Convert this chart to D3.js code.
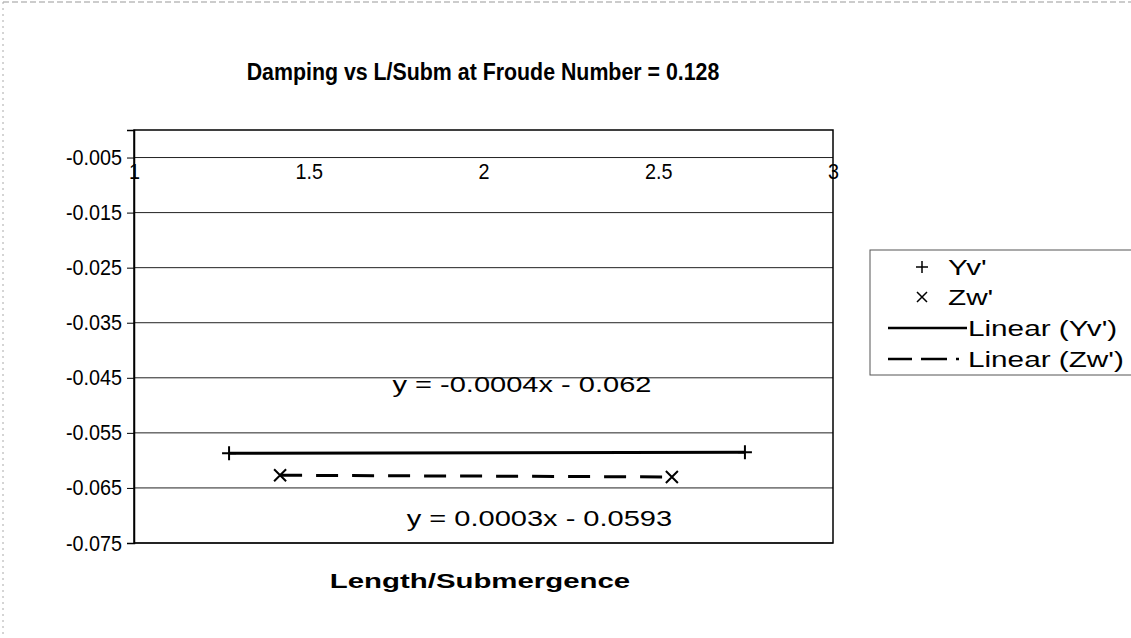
<!DOCTYPE html>
<html>
<head>
<meta charset="utf-8">
<script src="https://cdn.jsdelivr.net/npm/d3@7"></script>
<style>
	body { margin: 0; background: #fff; }
	text { font-family: "Liberation Sans", Arial, sans-serif; fill: #000; }
</style>
</head>
<body>
<div id="chart"></div>
<script>
const xTicks = [1, 1.5, 2, 2.5, 3];
const yTicks = [-0.005, -0.015, -0.025, -0.035, -0.045, -0.055, -0.065, -0.075];

const yvX = [1.272, 2.748];
const yvY = [-0.0587, -0.0585];
const zwX = [1.418, 2.539];
const zwY = [-0.0627, -0.0630];

const seriesNames = ["Yv'", "Zw'"];
const trendNames = ["Linear (Yv')", "Linear (Zw')"];
const equations = ["y = -0.0004x - 0.062", "y = 0.0003x - 0.0593"];

const width = 1131, height = 638;
const margin = {top: 130, right: 298, bottom: 95, left: 134};

const svg = d3.select('#chart').append('svg')
	.attr('width', width)
	.attr('height', height);

// scan-like outer border (only top and left visible)
svg.append('line').attr('x1', 3).attr('x2', width).attr('y1', 2).attr('y2', 2)
	.attr('stroke', '#999').attr('stroke-dasharray', '6,3');
svg.append('line').attr('x1', 3).attr('x2', 3).attr('y1', 2).attr('y2', height)
	.attr('stroke', '#aaa').attr('stroke-dasharray', '2,4');

const xScale = d3.scaleLinear()
	.domain([1, 3])
	.range([margin.left, width - margin.right]);

const yScale = d3.scaleLinear()
	.domain([-0.075, 0])
	.range([height - margin.bottom, margin.top]);

// the scanned text is not in the usual proportions, so scale it horizontally
const wideText = (sel, x, y, str, size, sx, opts = {}) => {
	return sel.append('text')
		.attr('transform', `translate(${x},${y}) scale(${sx},1)`)
		.attr('text-anchor', opts.anchor || 'middle')
		.attr('dy', opts.dy || null)
		.style('font-size', size + 'px')
		.style('font-weight', opts.bold ? 'bold' : null)
		.text(str);
};

const squeezeTicks = (g, sx) => {
	g.selectAll('.tick text').each(function() {
		const t = d3.select(this);
		const x = +t.attr('x') || 0;
		const y = +t.attr('y') || 0;
		t.attr('x', 0).attr('y', 0)
			.attr('transform', `translate(${x},${y}) scale(${sx},1)`);
	});
};

// gridlines
svg.append('g')
	.selectAll('line')
	.data(yTicks)
	.enter().append('line')
	.attr('x1', margin.left)
	.attr('x2', width - margin.right)
	.attr('y1', d => yScale(d))
	.attr('y2', d => yScale(d))
	.attr('stroke', '#222')
	.attr('stroke-width', 1);

// plot border
svg.append('rect')
	.attr('x', margin.left)
	.attr('y', margin.top)
	.attr('width', width - margin.right - margin.left)
	.attr('height', height - margin.bottom - margin.top)
	.attr('fill', 'none')
	.attr('stroke', '#000')
	.attr('stroke-width', 1.5);

// y axis
const yAxis = d3.axisLeft(yScale)
	.tickValues(yTicks)
	.tickSize(7)
	.tickPadding(5)
	.tickFormat(d => d3.format('.3f')(d).replace('\u2212', '-'));

const gy = svg.append('g')
	.attr('transform', `translate(${margin.left},0)`)
	.call(yAxis);
gy.select('.domain').attr('stroke-width', 1.5);
gy.selectAll('text').style('font-size', '22px');
squeezeTicks(gy, 0.9);

// x axis labels, sitting under the -0.005 gridline
const xAxis = d3.axisBottom(xScale)
	.tickValues(xTicks)
	.tickSize(0)
	.tickPadding(6)
	.tickFormat(d => d);

const gx = svg.append('g')
	.attr('transform', `translate(0,${yScale(-0.005)})`)
	.call(xAxis);
gx.select('.domain').remove();
gx.selectAll('text').style('font-size', '22px');
squeezeTicks(gx, 0.9);

// trendlines from least squares fit
const fit = (xs, ys) => {
	const mx = d3.mean(xs), my = d3.mean(ys);
	const b = d3.sum(xs.map((x, i) => (x - mx) * (ys[i] - my))) / d3.sum(xs.map(x => (x - mx) * (x - mx)));
	return x => my + b * (x - mx);
};

const line = d3.line()
	.x(d => xScale(d[0]))
	.y(d => yScale(d[1]));

const yvFit = fit(yvX, yvY);
const zwFit = fit(zwX, zwY);

svg.append('path')
	.datum(d3.extent(yvX).map(x => [x, yvFit(x)]))
	.attr('d', line)
	.attr('fill', 'none')
	.attr('stroke', '#000')
	.attr('stroke-width', 3);

svg.append('path')
	.datum(d3.extent(zwX).map(x => [x, zwFit(x)]))
	.attr('d', line)
	.attr('fill', 'none')
	.attr('stroke', '#000')
	.attr('stroke-width', 3)
	.attr('stroke-dasharray', '22,14');

// markers
const plusPath = s => `M${-s},0H${s}M0,${-s}V${s}`;
const crossPath = s => `M${-s},${-s}L${s},${s}M${-s},${s}L${s},${-s}`;

svg.append('g')
	.selectAll('path')
	.data(yvX.map((x, i) => [x, yvY[i]]))
	.enter().append('path')
	.attr('transform', d => `translate(${xScale(d[0])},${yScale(d[1])})`)
	.attr('d', plusPath(7))
	.attr('stroke', '#000')
	.attr('stroke-width', 2);

svg.append('g')
	.selectAll('path')
	.data(zwX.map((x, i) => [x, zwY[i]]))
	.enter().append('path')
	.attr('transform', d => `translate(${xScale(d[0])},${yScale(d[1])})`)
	.attr('d', crossPath(6))
	.attr('stroke', '#000')
	.attr('stroke-width', 2);

// equations
wideText(svg, xScale(2.11), yScale(-0.0475), equations[0], 22, 1.32);
wideText(svg, xScale(2.16), yScale(-0.0720), equations[1], 22, 1.32);

// titles
wideText(svg, 483, 80, 'Damping vs L/Subm at Froude Number = 0.128', 24, 0.89, {bold: true});
wideText(svg, 480, 588, 'Length/Submergence', 21, 1.4, {bold: true});

// legend
const legend = svg.append('g').attr('transform', 'translate(870,250)');
legend.append('rect')
	.attr('x', 0).attr('y', 0)
	.attr('width', 262).attr('height', 125)
	.attr('fill', '#fff')
	.attr('stroke', '#555');

const rowY = [17, 47, 78, 109];
legend.append('path').attr('transform', `translate(52,${rowY[0]})`).attr('d', plusPath(6))
	.attr('stroke', '#000').attr('stroke-width', 1.5);
legend.append('path').attr('transform', `translate(52,${rowY[1]})`).attr('d', crossPath(5))
	.attr('stroke', '#000').attr('stroke-width', 1.5);
legend.append('line').attr('x1', 18).attr('x2', 97).attr('y1', rowY[2]).attr('y2', rowY[2])
	.attr('stroke', '#000').attr('stroke-width', 2.5);
legend.append('line').attr('x1', 18).attr('x2', 96).attr('y1', rowY[3]).attr('y2', rowY[3])
	.attr('stroke', '#000').attr('stroke-width', 2.5).attr('stroke-dasharray', '24,9,26,9,3');

const labels = [seriesNames[0], seriesNames[1], trendNames[0], trendNames[1]];
labels.forEach((d, i) => {
	wideText(legend, i < 2 ? 78 : 98, rowY[i], d, 22, 1.35, {anchor: 'start', dy: '0.35em'});
});
</script>
</body>
</html>
